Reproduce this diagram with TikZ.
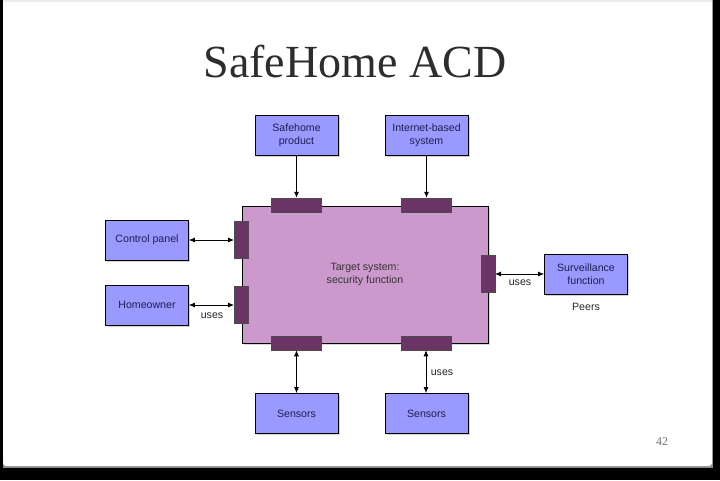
\documentclass[tikz,border=0pt]{standalone}
\usepackage{fontspec}
\setmainfont{Liberation Serif}
\newfontfamily\diagfont{Liberation Sans}
\usetikzlibrary{arrows.meta,shadows}
\definecolor{boxblue}{RGB}{153,153,255}
\definecolor{tgtpink}{RGB}{204,153,204}
\definecolor{portpurple}{RGB}{106,52,100}
\definecolor{navytext}{RGB}{30,30,80}
\definecolor{titlegray}{RGB}{45,45,45}
\tikzset{
  actor/.style={draw=black, line width=0.8pt, fill=boxblue, minimum width=83pt, minimum height=40pt,
    inner sep=1pt, align=center, font=\diagfont\fontsize{10.6}{13}\selectfont, text=navytext,
    drop shadow={opacity=0.35, shadow xshift=1.5pt, shadow yshift=-1.5pt}},
  target/.style={draw=black, line width=0.8pt, fill=tgtpink, minimum width=246pt, minimum height=137pt,
    align=center, font=\diagfont\fontsize{10.6}{12.5}\selectfont, text=black!80,
    drop shadow={opacity=0.3, shadow xshift=1.5pt, shadow yshift=-1.5pt}},
  hport/.style={draw=black!70, line width=0.5pt, fill=portpurple, minimum width=50pt, minimum height=14pt, inner sep=0pt},
  vport/.style={draw=black!70, line width=0.5pt, fill=portpurple, minimum width=13.5pt, minimum height=37pt, inner sep=0pt},
  conn/.style={line width=0.8pt, black},
  lbl/.style={font=\diagfont\fontsize{10.6}{12}\selectfont, text=black!85, inner sep=0pt},
}
\begin{document}
\begin{tikzpicture}[x=1pt,y=-1pt]
\useasboundingbox (0,0) rectangle (720,480);
% slide frame
\fill[black] (0,0) rectangle (720,480);
\fill[black!45] (3,0) rectangle (713,468);
\fill[white, rounded corners=3pt] (3,-5) rectangle (712,466);
\fill[black!8] (3,0) rectangle (712,2);
% title
\node (title) at (355,62) {\fontsize{46}{50}\selectfont\color{titlegray}SafeHome ACD};
% target system
\node[target] (tgt) at (365,274.5) {Target system:\\security function};
% ports
\node[hport] (pt1) at (296.5,205) {};
\node[hport] (pt2) at (426,205) {};
\node[hport] (pb1) at (296.5,343) {};
\node[hport] (pb2) at (426,343) {};
\node[vport] (pl1) at (241,239.5) {};
\node[vport] (pl2) at (241,304.5) {};
\node[vport] (pr) at (488,274) {};
% actors
\node[actor] (safe) at (296.5,135) {Safehome\\product};
\node[actor] (inet) at (426.5,135) {Internet-based\\system};
\node[actor] (cp) at (147,240) {Control panel};
\node[actor] (ho) at (147,305) {Homeowner};
\node[actor] (surv) at (586,274) {Surveillance\\function};
\node[actor] (s1) at (296.5,413.5) {Sensors};
\node[actor] (s2) at (426.5,413.5) {Sensors};
% connectors
\draw[conn,-{Latex[length=6pt,width=5pt]}] (safe.south) -- (pt1.north);
\draw[conn,-{Latex[length=6pt,width=5pt]}] (inet.south) -- (inet.south |- pt2.north);
\draw[conn,{Latex[length=6pt,width=5pt]}-{Latex[length=6pt,width=5pt]}] (cp.east) -- (cp.east -| pl1.west);
\draw[conn,{Latex[length=6pt,width=5pt]}-{Latex[length=6pt,width=5pt]}] (ho.east) -- (ho.east -| pl2.west);
\draw[conn,{Latex[length=6pt,width=5pt]}-{Latex[length=6pt,width=5pt]}] (pr.east) -- (pr.east -| surv.west);
\draw[conn,{Latex[length=6pt,width=5pt]}-{Latex[length=6pt,width=5pt]}] (pb1.south) -- (pb1.south |- s1.north);
\draw[conn,{Latex[length=6pt,width=5pt]}-{Latex[length=6pt,width=5pt]}] (pb2.south) -- (pb2.south |- s2.north);
% labels
\node[lbl] (u1) at (212,316) {uses};
\node[lbl] (u2) at (520,283) {uses};
\node[lbl] (u3) at (442,373) {uses};
\node[lbl] (peers) at (586,307) {Peers};
% page number
\node (pg) at (662,442) {\fontsize{12}{14}\selectfont\color{black!55}42};
\end{tikzpicture}
\end{document}
